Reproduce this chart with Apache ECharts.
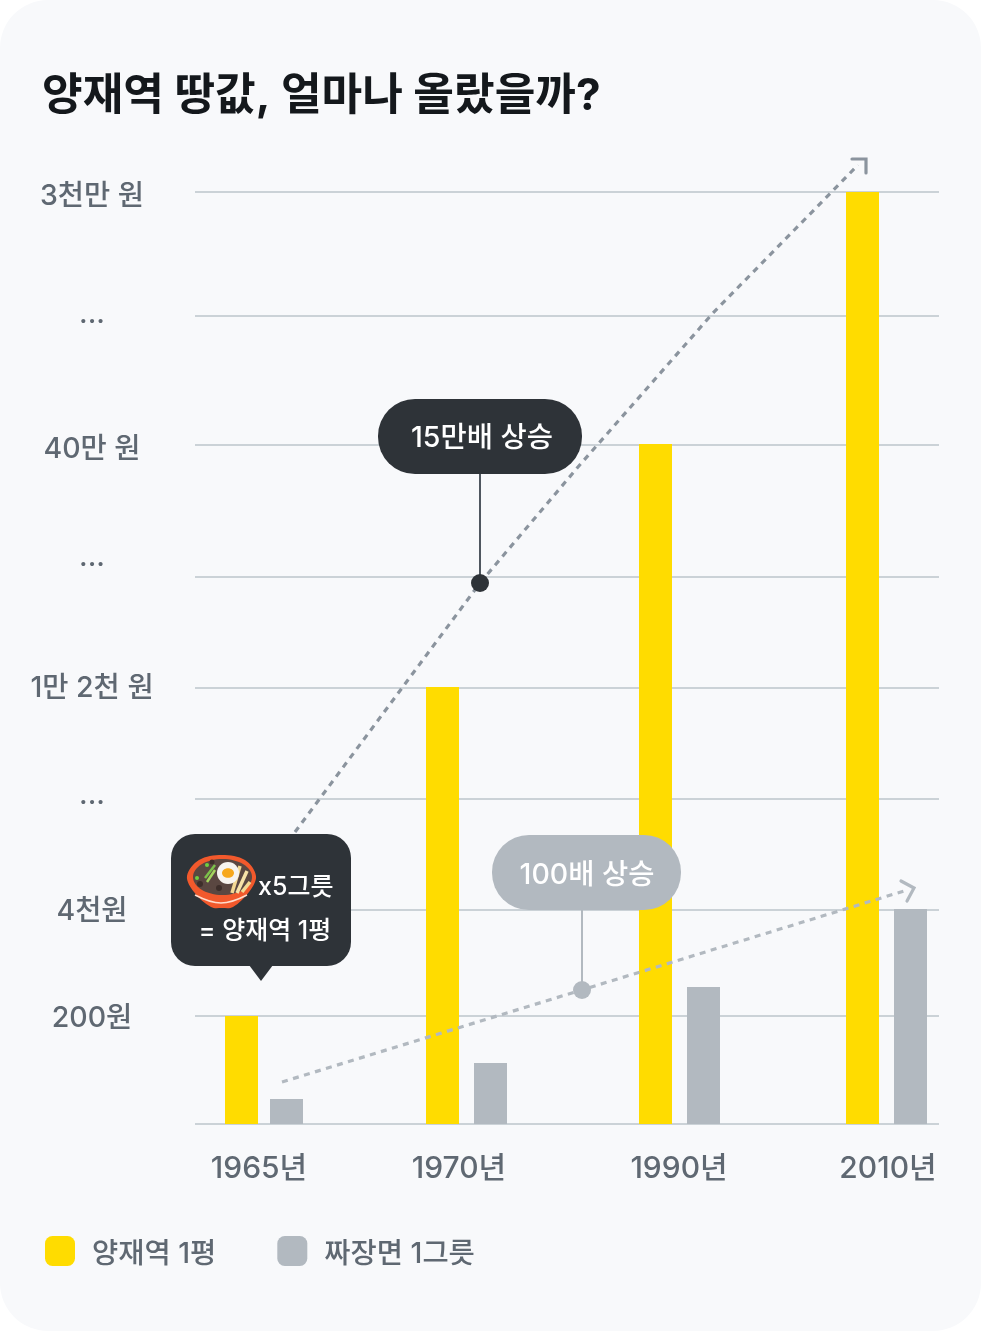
<!DOCTYPE html>
<html><head><meta charset="utf-8">
<style>
html,body{margin:0;padding:0;background:#fff;}
#card{width:981px;height:1331px;background:#f8f9fb;border-radius:48px;overflow:hidden;}
#c{width:981px;height:1331px;}
</style>
<script src="https://cdn.jsdelivr.net/npm/echarts@6/dist/echarts.min.js"></script>
</head><body><div id="card"><div id="c"></div></div>
<script>
// Schematic (broken) scale: values are heights in axis units, x in axis units
const title = '양재역 땅값, 얼마나 올랐을까?';
const seriesNames = ['양재역 1평', '짜장면 1그릇'];
const xTickLabels = ['1965년', '1970년', '1990년', '2010년'];
const xTickPos = [64, 264, 484, 693];
const yellowX = [46.5, 247.5, 460.5, 667.5];
const grayX = [91.5, 295.5, 508.5, 715.5];
const yellowVals = [108, 437, 680, 932];
const grayVals = [25, 61, 137, 215];
const gridVals = [0, 108, 214, 325, 436, 547, 679, 808, 932];
const yLabelTexts = ['200원', '4천원', '···', '1만 2천 원', '···', '40만 원', '···', '3천만 원'];
const yLabelPos = [106, 213, 321, 436, 559, 675, 802, 928];
const trendBig = [[100, 292], [285, 541], [383, 657], [518, 811], [663, 959]];
const trendBigHead = [[657, 965], [671, 965], [671, 951]];
const trendSmall = [[87, 42], [709, 233]];
const trendSmallHead = [[706, 243], [719, 236], [712, 223]];
const bigDot = [285, 541];
const bigStem = [[285, 541], [285, 651]];
const smallDot = [387, 134];
const smallStem = [[387, 134], [387, 214]];

const FONT = 'Inter, "Noto Sans CJK KR", sans-serif';
const TEXT = '#5f6872', GRID = '#bcc4cb', YEL = '#ffdc00', GRY = '#b2b9c0', DARK = '#2e3338', DASH = '#8b949e';
const chart = echarts.init(document.getElementById('c'), null, {renderer: 'canvas'});
const zip = (xs, ys) => xs.map((x, i) => [x, ys[i]]);
const lineS = (data, color, extra) => Object.assign({type: 'line', data, symbol: 'none', silent: true,
  lineStyle: Object.assign({color, width: 3.2}, extra || {}), z: 4, animation: false}, {});
const dashed = {type: [6, 5.5], cap: 'butt'};
const axisFont = {fontFamily: FONT, fontWeight: 500, color: TEXT};
chart.setOption({
  animation: false,
  backgroundColor: 'transparent',
  textStyle: {fontFamily: FONT},
  title: {text: title, left: 42, top: 75, padding: 0,
    textStyle: {fontFamily: FONT, fontSize: 44.2, fontWeight: 700, color: '#14181c'}},
  legend: {left: 45, top: 1236, padding: 0, itemWidth: 30, itemHeight: 30, itemGap: 61, icon: 'roundRect',
    data: seriesNames, selectedMode: false,
    formatter: n => '{a|' + n + '}',
    textStyle: {rich: {a: Object.assign({fontSize: 28.5, padding: [6, 0, 0, 12]}, axisFont)}}},
  grid: {left: 195, top: 120, width: 744, height: 1004},
  xAxis: {type: 'value', min: 0, max: 744, splitLine: {show: false},
    axisLine: {show: false}, axisTick: {show: false},
    axisLabel: Object.assign({customValues: xTickPos, margin: 30, fontSize: 30,
      formatter: v => xTickLabels[xTickPos.indexOf(v)] || ''}, axisFont)},
  yAxis: {type: 'value', min: 0, max: 1004,
    axisLine: {show: false},
    axisTick: {show: false, customValues: gridVals},
    splitLine: {show: true, lineStyle: {color: GRID, width: 1.5}},
    axisLabel: Object.assign({customValues: yLabelPos, margin: 103, align: 'center', fontSize: 28.5,
      formatter: v => yLabelTexts[yLabelPos.indexOf(v)] || ''}, axisFont)},
  series: [
    {name: seriesNames[0], type: 'bar', barWidth: 33, barGap: '-100%', data: zip(yellowX, yellowVals),
      itemStyle: {color: YEL}, z: 2},
    {name: seriesNames[1], type: 'bar', barWidth: 33, barGap: '-100%', data: zip(grayX, grayVals),
      itemStyle: {color: GRY}, z: 2},
    lineS(trendBig, DASH, dashed),
    lineS(trendBigHead, DASH, {cap: 'round', join: 'miter'}),
    lineS(trendSmall, GRY, dashed),
    lineS(trendSmallHead, GRY, {cap: 'round', join: 'miter'}),
    lineS(bigStem, '#4f575f', {width: 2}),
    lineS(smallStem, GRY, {width: 2}),
    {type: 'scatter', data: [bigDot], symbolSize: 18, itemStyle: {color: DARK, opacity: 1}, z: 5, silent: true},
    {type: 'scatter', data: [smallDot], symbolSize: 18, itemStyle: {color: GRY, opacity: 1}, z: 5, silent: true}
  ],
  graphic: [
    {type: 'rect', z: 10, shape: {x: 378, y: 399, width: 204, height: 75, r: 37}, style: {fill: DARK}},
    {type: 'text', z: 11, x: 482, y: 438, style: {text: '15만배 상승', fill: '#fff', font: '500 28.5px ' + FONT, textAlign: 'center', textVerticalAlign: 'middle'}},
    {type: 'rect', z: 10, shape: {x: 492, y: 835, width: 189, height: 75, r: 37}, style: {fill: GRY}},
    {type: 'text', z: 11, x: 587, y: 875, style: {text: '100배 상승', fill: '#fff', font: '500 28.5px ' + FONT, textAlign: 'center', textVerticalAlign: 'middle'}},
    {type: 'rect', z: 10, shape: {x: 171, y: 834, width: 180, height: 132, r: 24}, style: {fill: DARK}},
    {type: 'polygon', z: 10, shape: {points: [[249, 965], [273, 965], [261, 981]]}, style: {fill: DARK}},
    // bowl illustration
    {type: 'polygon', z: 11, shape: {smooth: 0.35, points: [[187, 876], [194, 892], [211, 907], [222, 908], [233, 907], [249, 892], [256, 876], [245, 860], [222, 855], [199, 860]]}, style: {fill: '#f2592c'}},
    {type: 'ellipse', z: 12, shape: {cx: 222.5, cy: 877, rx: 29.5, ry: 18}, style: {fill: '#5a4741'}},
    {type: 'circle', z: 12, shape: {cx: 200, cy: 884, r: 3}, style: {fill: '#3d2e2a'}},
    {type: 'circle', z: 12, shape: {cx: 219, cy: 888, r: 3}, style: {fill: '#3d2e2a'}},
    {type: 'circle', z: 12, shape: {cx: 212, cy: 862, r: 2.5}, style: {fill: '#3d2e2a'}},
    {type: 'polyline', z: 12, shape: {smooth: 0.4, points: [[195, 895], [221, 903], [247, 895]]}, style: {fill: 'none', stroke: '#ffdccc', lineWidth: 1.6}},
    {type: 'line', z: 13, shape: {x1: 215, y1: 865, x2: 205, y2: 878}, style: {stroke: '#7cc24a', lineWidth: 2.5}},
    {type: 'line', z: 13, shape: {x1: 215, y1: 870, x2: 207, y2: 882}, style: {stroke: '#a4d65e', lineWidth: 2.5}},
    {type: 'circle', z: 13, shape: {cx: 207, cy: 865, r: 2}, style: {fill: '#6fcf3f'}},
    {type: 'circle', z: 13, shape: {cx: 197, cy: 878, r: 2}, style: {fill: '#6fcf3f'}},
    {type: 'line', z: 13, shape: {x1: 240, y1: 866, x2: 232, y2: 893}, style: {stroke: '#f3d893', lineWidth: 3.5}},
    {type: 'line', z: 13, shape: {x1: 247, y1: 871, x2: 237, y2: 893}, style: {stroke: '#f7e2a8', lineWidth: 3.5}},
    {type: 'line', z: 13, shape: {x1: 250, y1: 882, x2: 242, y2: 892}, style: {stroke: '#f3d893', lineWidth: 3.5}},
    {type: 'circle', z: 14, shape: {cx: 228, cy: 873, r: 11}, style: {fill: '#f7f4ef'}},
    {type: 'ellipse', z: 15, shape: {cx: 228, cy: 873, rx: 6, ry: 4.8}, style: {fill: '#f7a81c'}},
    {type: 'text', z: 11, x: 258, y: 887, style: {text: 'x5그릇', fill: '#fff', font: '500 25px ' + FONT, textAlign: 'left', textVerticalAlign: 'middle'}},
    {type: 'text', z: 11, x: 265, y: 931, style: {text: '= 양재역 1평', fill: '#fff', font: '500 25px ' + FONT, textAlign: 'center', textVerticalAlign: 'middle'}}
  ]
});
</script></body></html>
